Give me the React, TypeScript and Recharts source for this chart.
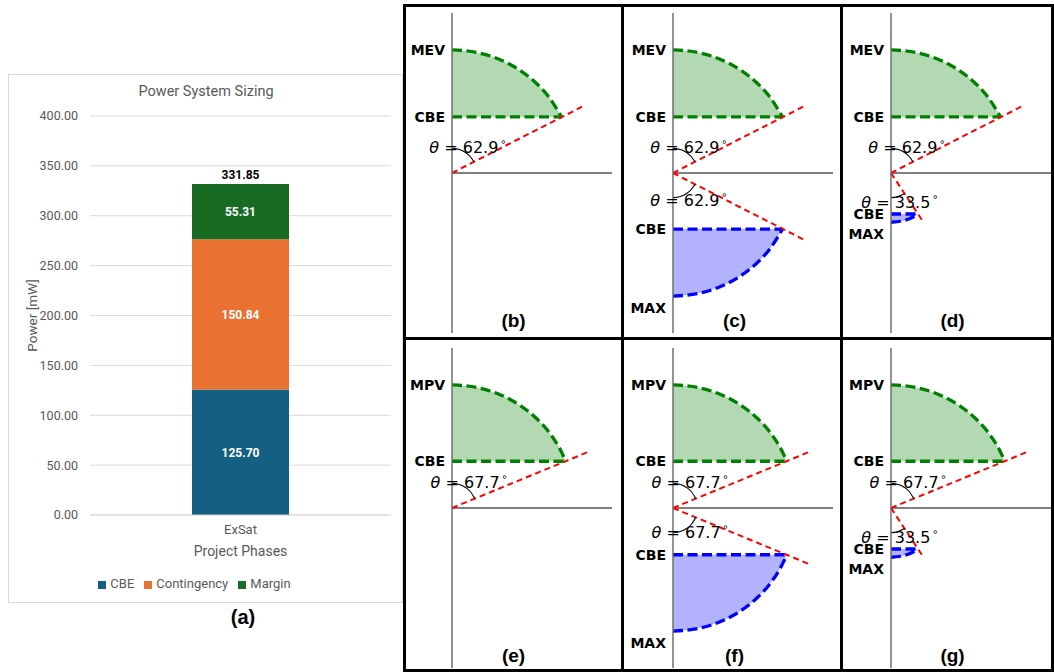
import React from 'react';
import {
  Area,
  Bar,
  BarChart,
  CartesianGrid,
  ComposedChart,
  LabelList,
  Legend,
  Line,
  ReferenceDot,
  ReferenceLine,
  XAxis,
  YAxis,
} from 'recharts';

// ---- (a) power budget ----
const phases = ['ExSat'];
const cbePower = [125.7];
const contingencyPower = [150.84];
const marginPower = [55.31];
const powerTicks = [0, 50, 100, 150, 200, 250, 300, 350, 400];

// ---- (b)-(g) envelope sketches, MEV/MPV radius normalised to 1 ----
const panelTags = ['(b)', '(c)', '(d)', '(e)', '(f)', '(g)'];
const upperNames = ['MEV', 'MEV', 'MEV', 'MPV', 'MPV', 'MPV'];
const upperAngles = [62.9, 62.9, 62.9, 67.7, 67.7, 67.7];
const lowerAngles: (number | null)[] = [null, 62.9, 33.5, null, 67.7, 33.5];

const lobeAngles = [62.9, 67.7, 33.5];
const lobeOuter = [1, 1, 0.4];
const lobeCbe = [0.456, 0.38, 0.333];
const lobeRayEnd = [[1.06, 0.54], [1.105, 0.455], [0.252, 0.382]];
const lobeEdgeX = [
  [0, 0.2, 0.4, 0.55, 0.68, 0.79, 0.89],
  [0, 0.2, 0.4, 0.55, 0.68, 0.79, 0.87, 0.925],
  [0, 0.08, 0.15, 0.221],
];
const lobeEdgeY = [
  [1, 0.98, 0.917, 0.835, 0.733, 0.613, 0.456],
  [1, 0.98, 0.917, 0.835, 0.733, 0.613, 0.493, 0.38],
  [0.4, 0.392, 0.371, 0.333],
];
const lobeTickX = [
  [0, 0.06, 0.11, 0.15, 0.178],
  [0, 0.06, 0.11, 0.15, 0.185],
  [0, 0.05, 0.11],
];
const lobeTickY = [
  [0.2, 0.191, 0.167, 0.132, 0.091],
  [0.2, 0.191, 0.167, 0.132, 0.076],
  [0.2, 0.194, 0.167],
];
const thetaLabelX = [0.13, 0.14, 0.073];
const thetaLabelYUp = 0.21;
const thetaLabelYLow = [-0.22, -0.195, -0.235];

const XL = 'Roboto, "Open Sans", sans-serif';
const MPL = '"DejaVu Sans", sans-serif';
const GREEN = '#008000';
const BLUE = '#0000ff';

const budgetRows = phases.map((phase, i) => ({
  phase,
  cbe: cbePower[i],
  contingency: contingencyPower[i],
  margin: marginPower[i],
  total: cbePower[i] + contingencyPower[i] + marginPower[i],
}));

const fmt2 = (v: any) => Number(v).toFixed(2);

const ThetaText = ({ cx, cy, angle }: any) => (
  <text x={cx} y={cy} textAnchor="middle" dominantBaseline="central" fontFamily={MPL} fontSize={16} fill="#000">
    <tspan fontStyle="italic">θ</tspan>
    <tspan>{' = ' + angle.toFixed(1)}</tspan>
    <tspan dx={2} dy={-6} fontSize={10}>∘</tspan>
  </text>
);

const SideTick = ({ x, y, payload, names, values }: any) => {
  const i = values.findIndex((v: number) => Math.abs(v - payload.value) < 1e-6);
  const name = names[i] ?? '';
  return (
    <text
      x={x}
      y={y + (name === 'MAX' ? 12 : 0)}
      textAnchor="end"
      dominantBaseline="central"
      fontFamily={MPL}
      fontWeight="bold"
      fontSize={14}
      fill="#000"
    >
      {name}
    </text>
  );
};

const renderLobe = (k: number, dir: number, tag: string) => {
  const color = dir > 0 ? GREEN : BLUE;
  const band = lobeEdgeX[k].map((x, i) => ({
    x,
    band: dir > 0 ? [lobeCbe[k], lobeEdgeY[k][i]] : [-lobeEdgeY[k][i], -lobeCbe[k]],
  }));
  const mark = lobeTickX[k].map((x, i) => ({ x, y: dir * lobeTickY[k][i] }));
  return [
    <Area
      key={tag + 'a'}
      data={band}
      dataKey="band"
      type="monotone"
      stroke={color}
      strokeWidth={3.3}
      strokeDasharray="10 4.5"
      fill={color}
      fillOpacity={0.3}
      dot={false}
      activeDot={false}
      isAnimationActive={false}
    />,
    <ReferenceLine
      key={tag + 'r'}
      segment={[
        { x: 0, y: 0 },
        { x: lobeRayEnd[k][0], y: dir * lobeRayEnd[k][1] },
      ]}
      stroke="#ff0000"
      strokeWidth={2}
      strokeDasharray="6 4"
    />,
    <Line
      key={tag + 'l'}
      data={mark}
      dataKey="y"
      type="monotone"
      stroke="#000"
      strokeWidth={1.1}
      dot={false}
      activeDot={false}
      isAnimationActive={false}
    />,
    <ReferenceDot
      key={tag + 't'}
      x={thetaLabelX[k]}
      y={dir > 0 ? thetaLabelYUp : thetaLabelYLow[k]}
      r={0}
      shape={(p: any) => <ThetaText cx={p.cx} cy={p.cy} angle={lobeAngles[k]} />}
    />,
  ];
};

type PanelProps = { idx: number; left: number; top: number; width: number; axisW: number; marginTop: number };

const Panel = ({ idx, left, top, width, axisW, marginTop }: PanelProps) => {
  const up = lobeAngles.indexOf(upperAngles[idx]);
  const lowAngle = lowerAngles[idx];
  const low = lowAngle == null ? -1 : lobeAngles.indexOf(lowAngle);
  const tickVals = [lobeOuter[up], lobeCbe[up]];
  const tickNames = [upperNames[idx], 'CBE'];
  if (low >= 0) {
    tickVals.push(-lobeCbe[low], -lobeOuter[low]);
    tickNames.push('CBE', 'MAX');
  }
  return (
    <div style={{ position: 'absolute', left, top }}>
      <ComposedChart
        width={width}
        height={333}
        margin={{ top: marginTop, right: width - axisW - 160, bottom: 13 - marginTop, left: 0 }}
      >
        <XAxis type="number" dataKey="x" domain={[0, 1.3]} allowDataOverflow hide />
        <YAxis
          type="number"
          domain={[-1.3, 1.3]}
          allowDataOverflow
          ticks={tickVals}
          interval={0}
          width={axisW}
          tickLine={false}
          tickSize={5}
          tickMargin={2}
          axisLine={{ stroke: '#6e6e6e', strokeWidth: 1.5 }}
          tick={(p: any) => <SideTick {...p} names={tickNames} values={tickVals} />}
        />
        <ReferenceLine y={0} stroke="#000" strokeWidth={1.2} />
        {renderLobe(up, 1, 'u')}
        {low >= 0 && renderLobe(low, -1, 'd')}
        <ReferenceDot
          x={0.5}
          y={-1.2}
          r={0}
          shape={(p: any) => (
            <text
              x={p.cx}
              y={p.cy}
              textAnchor="middle"
              dominantBaseline="central"
              fontFamily='"Liberation Sans", Arial, sans-serif'
              fontWeight="bold"
              fontSize={19}
              fill="#000"
            >
              {panelTags[idx]}
            </text>
          )}
        />
      </ComposedChart>
    </div>
  );
};

const colLeft = [404, 622, 841];
const colWidth = [218, 219, 213];
const colAxis = [48, 51, 50];

const Rule = ({ l, t, w, h }: any) => (
  <div style={{ position: 'absolute', left: l, top: t, width: w, height: h, background: '#000' }} />
);

export default function App() {
  return (
    <div style={{ position: 'absolute', left: 0, top: 0, width: 1054, height: 672, background: '#fff', overflow: 'hidden' }}>
      {/* (a) */}
      <div
        style={{
          position: 'absolute',
          left: 8,
          top: 74,
          width: 395,
          height: 529,
          border: '1px solid #d9d9d9',
          boxSizing: 'border-box',
        }}
      />
      <div
        style={{
          position: 'absolute',
          left: 8,
          top: 83,
          width: 396,
          textAlign: 'center',
          fontFamily: XL,
          fontSize: 14.5,
          lineHeight: '18px',
          color: '#595959',
        }}
      >
        Power System Sizing
      </div>
      <div style={{ position: 'absolute', left: 8, top: 74 }}>
        <BarChart width={395} height={529} data={budgetRows} margin={{ top: 42, right: 12, bottom: 12, left: 0 }}>
          <CartesianGrid vertical={false} stroke="#d9d9d9" />
          <XAxis
            dataKey="phase"
            tickLine={false}
            tickSize={6}
            tickMargin={4}
            height={61}
            axisLine={{ stroke: '#d9d9d9' }}
            tick={{ fill: '#595959', fontSize: 13, fontFamily: XL }}
            label={{ value: 'Project Phases', position: 'insideBottom', offset: 20, fill: '#595959', fontSize: 14, fontFamily: XL }}
          />
          <YAxis
            domain={[0, 400]}
            ticks={powerTicks}
            width={82}
            tickLine={false}
            axisLine={false}
            tickSize={6}
            tickMargin={6}
            tickFormatter={fmt2}
            tick={{ fill: '#595959', fontSize: 12.5, fontFamily: XL }}
            label={{
              value: 'Power [mW]',
              angle: -90,
              position: 'insideLeft',
              offset: 24,
              fill: '#595959',
              fontSize: 13.5,
              fontFamily: XL,
              style: { textAnchor: 'middle' },
            }}
          />
          <Legend
            verticalAlign="bottom"
            iconType="square"
            iconSize={8}
            wrapperStyle={{ fontFamily: XL, fontSize: 13 }}
            formatter={(v: any) => <span style={{ color: '#595959' }}>{v}</span>}
          />
          <Bar dataKey="cbe" name="CBE" stackId="p" fill="#156082" barSize={97} isAnimationActive={false}>
            <LabelList dataKey="cbe" position="center" formatter={fmt2} fill="#fff" fontSize={12} fontWeight="bold" fontFamily={XL} />
          </Bar>
          <Bar dataKey="contingency" name="Contingency" stackId="p" fill="#e97132" barSize={97} isAnimationActive={false}>
            <LabelList dataKey="contingency" position="center" formatter={fmt2} fill="#fff" fontSize={12} fontWeight="bold" fontFamily={XL} />
          </Bar>
          <Bar dataKey="margin" name="Margin" stackId="p" fill="#196b24" barSize={97} isAnimationActive={false}>
            <LabelList dataKey="margin" position="center" formatter={fmt2} fill="#fff" fontSize={12} fontWeight="bold" fontFamily={XL} />
            <LabelList dataKey="total" position="top" formatter={fmt2} fill="#000" fontSize={12} fontWeight="bold" fontFamily={XL} />
          </Bar>
        </BarChart>
      </div>
      <div
        style={{
          position: 'absolute',
          left: 213,
          top: 605,
          width: 60,
          textAlign: 'center',
          fontFamily: '"Liberation Sans", Arial, sans-serif',
          fontWeight: 'bold',
          fontSize: 20,
          lineHeight: '24px',
        }}
      >
        (a)
      </div>

      {/* (b)-(g) */}
      {panelTags.map((_, idx) => {
        const col = idx % 3;
        const row = Math.floor(idx / 3);
        return (
          <Panel
            key={idx}
            idx={idx}
            left={colLeft[col]}
            top={row === 0 ? 5 : 338}
            width={colWidth[col]}
            axisW={colAxis[col]}
            marginTop={row === 0 ? 8 : 10}
          />
        );
      })}

      <Rule l={403} t={4} w={651} h={3} />
      <Rule l={403} t={337} w={651} h={3} />
      <Rule l={403} t={669} w={651} h={3} />
      <Rule l={403} t={4} w={3} h={668} />
      <Rule l={621} t={4} w={3} h={668} />
      <Rule l={840} t={4} w={3} h={668} />
      <Rule l={1051} t={4} w={3} h={668} />
    </div>
  );
}
